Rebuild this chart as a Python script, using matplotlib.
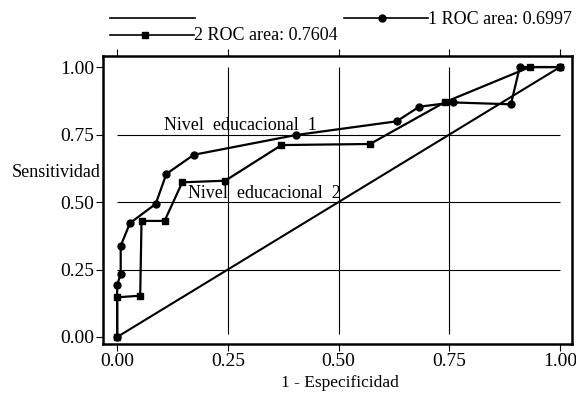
import numpy as np
import matplotlib
matplotlib.use('Agg')
import matplotlib.pyplot as plt
from matplotlib.lines import Line2D

plt.rcParams['font.family'] = ['Liberation Serif', 'DejaVu Serif']

# curva 1 (circulos) - Nivel educacional 1
x1 = [0.0, 0.0, 0.008, 0.008, 0.029, 0.087, 0.111, 0.173, 0.403, 0.631, 0.682, 0.758, 0.889, 0.909, 1.0]
y1 = [0.0, 0.193, 0.233, 0.338, 0.422, 0.493, 0.604, 0.675, 0.748, 0.799, 0.853, 0.869, 0.862, 1.0, 1.0]
# curva 2 (cuadrados) - Nivel educacional 2
x2 = [0.0, 0.0, 0.052, 0.055, 0.107, 0.147, 0.244, 0.371, 0.571, 0.74, 0.932, 1.0]
y2 = [0.0, 0.147, 0.153, 0.43, 0.43, 0.573, 0.579, 0.711, 0.715, 0.87, 1.0, 1.0]
# referencia
xr = [0.0, 1.0]
yr = [0.0, 1.0]

ticks = [0.0, 0.25, 0.5, 0.75, 1.0]
tick_labels = ['0.00', '0.25', '0.50', '0.75', '1.00']
grid = [0.25, 0.5, 0.75]

area1 = '0.6997'
area2 = '0.7604'

fig = plt.figure(figsize=(5.76, 3.96), dpi=100)
ax = fig.add_axes([0.1788, 0.1313, 0.8143, 0.7273])

# rejilla
ax.hlines(grid, 0, 1, colors='black', linewidth=0.8)
ax.vlines(grid, 0.01, 1.0, colors='black', linewidth=0.8)

ax.plot(xr, yr, color='black', linewidth=1.5)
ax.plot(x1, y1, color='black', linewidth=1.6, marker='o', markersize=5)
ax.plot(x2, y2, color='black', linewidth=1.6, marker='s', markersize=5)

ax.text(0.278, 0.785, 'Nivel  educacional  1', fontsize=13, ha='center', va='center')
ax.text(0.332, 0.53, 'Nivel  educacional  2', fontsize=13, ha='center', va='center')

ax.set_xlim(-0.032, 1.027)
ax.set_ylim(-0.026, 1.041)
ax.set_xticks(ticks)
ax.set_xticklabels(tick_labels)
ax.set_yticks(ticks)
ax.set_yticklabels(tick_labels)
ax.tick_params(axis='both', labelsize=14, direction='out', length=5, width=0.8, pad=1.5)
ax.tick_params(axis='x', top=True, labeltop=False)

for s in ax.spines.values():
    s.set_linewidth(1.8)

ax.set_xlabel('1 - Especificidad', fontsize=12.5, va='top')
ax.xaxis.set_label_coords(0.505, -0.108)
ax.set_ylabel('Sensitividad', fontsize=13, rotation=0, ha='right', va='center')
ax.yaxis.set_label_coords(-0.005, 0.597)

# leyenda (dibujada a mano, estilo Stata)
W, H = 576.0, 396.0
def fx(px):
    return px / W
def fy(py):
    return 1 - py / H

fig.add_artist(Line2D([fx(110), fx(195)], [fy(18), fy(18)], color='black', linewidth=1.2))
fig.add_artist(Line2D([fx(344), fx(428)], [fy(18), fy(18)], color='black', linewidth=1.2))
fig.add_artist(Line2D([fx(382)], [fy(18)], color='black', marker='o', markersize=5))
fig.text(fx(428), fy(19), '1 ROC area: ' + area1, fontsize=13, ha='left', va='center')
fig.add_artist(Line2D([fx(110), fx(194)], [fy(35), fy(35)], color='black', linewidth=1.2))
fig.add_artist(Line2D([fx(145)], [fy(35)], color='black', marker='s', markersize=5))
fig.text(fx(194), fy(36), '2 ROC area: ' + area2, fontsize=13, ha='left', va='center')

fig.savefig('out.png', dpi=100)
